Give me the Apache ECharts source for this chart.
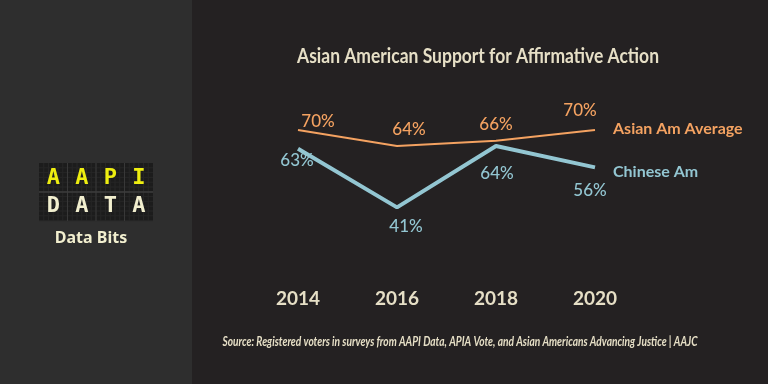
<!DOCTYPE html>
<html><head><meta charset="utf-8">
<script src="https://cdn.jsdelivr.net/npm/echarts@6/dist/echarts.min.js"></script>
<style>html,body{margin:0;padding:0;background:#242122}#c{width:768px;height:384px}</style>
</head><body><div id="c"></div>
<script>
const years = ['2014','2016','2018','2020'];
const asianAvg = [70, 64, 66, 70];
const chineseAm = [63, 41, 64, 56];
const seriesNames = ['Asian Am Average', 'Chinese Am'];
const titleText = 'Asian American Support for Affirmative Action';
const sourceText = 'Source: Registered voters in surveys from AAPI Data, APIA Vote, and Asian Americans Advancing Justice | AAJC';
const logoTop = ['A','A','P','I'];
const logoBottom = ['D','A','T','A'];
const logoSub = 'Data Bits';

// label placement (style only)
const avgOffsets = [[20,-8],[12,-16],[0,-16],[-15,-19]];
const chnOffsets = [[-1,12],[9,19],[1,28],[-5,23]];

const FONT = 'Lato, "Liberation Sans", sans-serif';
const BEIGE = '#e6dfc6';
const ORANGE = '#f4a261';
const BLUE = '#93c6d2';

function fitScale(text, font, target) {
  const ctx = document.createElement('canvas').getContext('2d');
  ctx.font = font;
  return target / ctx.measureText(text).width;
}

function mk(vals, offs, color) {
  return vals.map((v, i) => ({
    value: v,
    label: { show: true, position: 'inside', offset: offs[i], formatter: '{c}%', color: color,
             fontFamily: FONT, fontSize: 17, fontWeight: 500, align: 'center', verticalAlign: 'middle' }
  }));
}

const graphics = [];
graphics.push({ type: 'rect', shape: { x: 0, y: 0, width: 192, height: 384 }, style: { fill: '#2e2e2e' }, silent: true, z: -10 });
// logo tile
const lx = 39, ly = 163, lw = 114, lh = 58;
graphics.push({ type: 'rect', shape: { x: lx, y: ly, width: lw, height: lh }, style: { fill: '#1c1c1c' }, silent: true });
for (let x = lx + 4.75; x < lx + lw; x += 4.75) {
  graphics.push({ type: 'line', shape: { x1: x, y1: ly, x2: x, y2: ly + lh }, style: { stroke: '#262626', lineWidth: 1 }, silent: true });
}
for (let y = ly + 4.8; y < ly + lh; y += 4.8) {
  graphics.push({ type: 'line', shape: { x1: lx, y1: y, x2: lx + lw, y2: y }, style: { stroke: '#262626', lineWidth: 1 }, silent: true });
}
for (let k = 1; k < 4; k++) {
  const x = lx + k * lw / 4;
  graphics.push({ type: 'line', shape: { x1: x, y1: ly, x2: x, y2: ly + lh }, style: { stroke: '#383838', lineWidth: 1 }, silent: true });
}
graphics.push({ type: 'line', shape: { x1: lx, y1: ly + lh / 2, x2: lx + lw, y2: ly + lh / 2 }, style: { stroke: '#3c3c3c', lineWidth: 1.5 }, silent: true });
logoTop.forEach((ch, i) => {
  graphics.push({ type: 'text', x: lx + lw / 8 + i * lw / 4, y: 178, style: { text: ch, fill: '#eeee10', font: 'bold 22px "DejaVu Sans Mono", monospace', textAlign: 'center', textVerticalAlign: 'middle' }, silent: true });
});
logoBottom.forEach((ch, i) => {
  graphics.push({ type: 'text', x: lx + lw / 8 + i * lw / 4, y: 206, style: { text: ch, fill: '#f2efcf', font: 'bold 22px "DejaVu Sans Mono", monospace', textAlign: 'center', textVerticalAlign: 'middle' }, silent: true });
});
graphics.push({ type: 'text', x: 91, y: 238, style: { text: logoSub, fill: '#f2efcf', font: 'bold 16px "Noto Sans", sans-serif', textAlign: 'center', textVerticalAlign: 'middle' }, silent: true });

const titleFont = 'bold 20px ' + FONT;
graphics.push({ type: 'text', x: 478, y: 57, scaleX: fitScale(titleText, titleFont, 362), style: { text: titleText, fill: BEIGE, font: titleFont, textAlign: 'center', textVerticalAlign: 'middle' }, silent: true });
const srcFont = 'italic bold 14px ' + FONT;
graphics.push({ type: 'text', x: 460, y: 341, scaleX: fitScale(sourceText, srcFont, 475), style: { text: sourceText, fill: BEIGE, font: srcFont, textAlign: 'center', textVerticalAlign: 'middle' }, silent: true });

const chart = echarts.init(document.getElementById('c'));
chart.setOption({
  backgroundColor: '#242122',
  animation: false,
  grid: { left: 298, right: 173, top: 103.3, bottom: 147.3, containLabel: false },
  xAxis: {
    type: 'category', data: years, boundaryGap: false,
    axisLine: { show: false }, axisTick: { show: false }, splitLine: { show: false },
    axisLabel: { color: BEIGE, fontFamily: FONT, fontWeight: 'bold', fontSize: 19, margin: 53 }
  },
  yAxis: { type: 'value', min: 30, max: 80, show: false, splitLine: { show: false } },
  series: [
    { name: seriesNames[0], type: 'line', data: mk(asianAvg, avgOffsets, ORANGE), symbol: 'circle', symbolSize: 0, showSymbol: true,
      lineStyle: { color: ORANGE, width: 2 }, itemStyle: { color: ORANGE },
      endLabel: { show: true, formatter: seriesNames[0], color: ORANGE, fontFamily: FONT, fontWeight: 'bold', fontSize: 16, distance: 18, offset: [0, -1] } },
    { name: seriesNames[1], type: 'line', data: mk(chineseAm, chnOffsets, BLUE), symbol: 'circle', symbolSize: 0, showSymbol: true,
      lineStyle: { color: BLUE, width: 4 }, itemStyle: { color: BLUE },
      endLabel: { show: true, formatter: seriesNames[1], color: BLUE, fontFamily: FONT, fontWeight: 'bold', fontSize: 16, distance: 18, offset: [0, 5] } }
  ],
  graphic: graphics
});
</script></body></html>
